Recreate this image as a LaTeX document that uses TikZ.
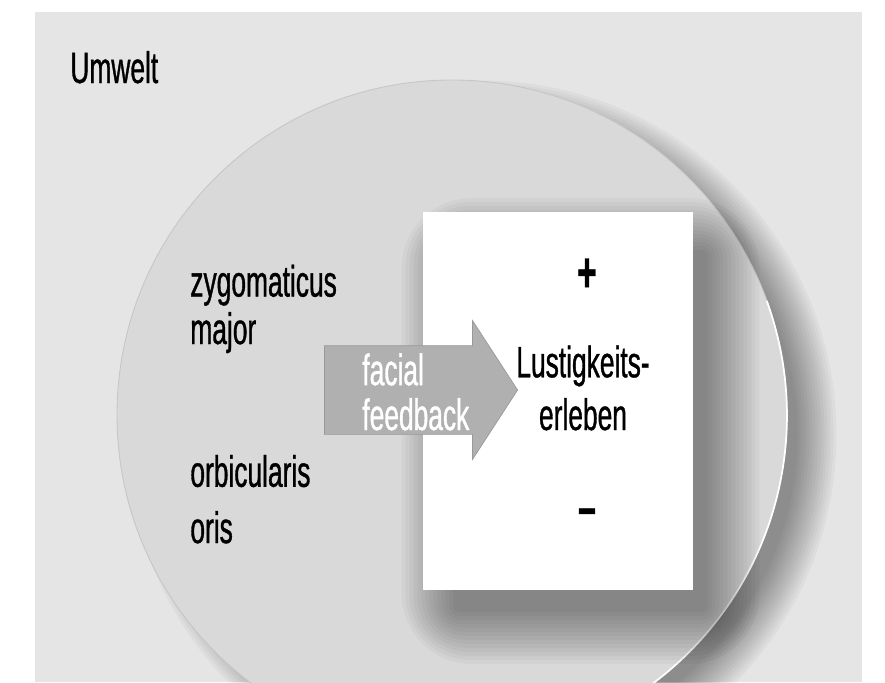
\documentclass[tikz,border=0pt]{standalone}
\usepackage{fontspec}
\setmainfont{Liberation Sans}[FakeStretch=0.6, FakeBold=0.8]
\usetikzlibrary{shapes.arrows,calc}

\begin{document}
\begin{tikzpicture}[every node/.style={font=\fontsize{25}{30}\selectfont, inner sep=0pt},
    txt/.style={align=left, anchor=base west},
    box/.style={fill=white, minimum width=5.4cm, minimum height=7.56cm},
    disc/.style={circle, fill=gray!30, draw=gray!45, line width=0.5pt, minimum size=13.4cm},
    fbarrow/.style={single arrow, fill=gray!62, draw=gray!80, inner ysep=0.88cm, minimum height=3.86cm,
      single arrow head extend=0.5cm, single arrow tip angle=114}]
  \useasboundingbox (0,0) rectangle (17.7,13.64);
  \fill[gray!20] (0.7,0) rectangle (17.24,13.4);
  \foreach \k in {1,...,14}
    \fill[black, opacity=0.03] (9.64,4.94) circle (6.25+0.06*\k);
  \node[disc] (circ) at (9.04,5.34) {};
  \draw[white, line width=1pt] (circ.-100) arc[start angle=-100, end angle=20, radius=6.7cm];
  \node[box] (box) at (11.16,5.62) {};
  \foreach \k in {1,...,14}
    \fill[black, opacity=0.03, rounded corners=\k mm]
      ($(box.south west)+(0.45+0.25-0.08*\k,-0.6+0.25-0.08*\k)$) rectangle
      ($(box.north east)+(0.45-0.25+0.08*\k,-0.6-0.25+0.08*\k)$);
  \node[box] at (box) {};
  \node[fbarrow, anchor=tip] (fb) at (10.36,5.84) {};
  \node[txt] (umw) at (1.4,11.98) {Umwelt};
  \node[txt, font=\fontsize{25}{27}\selectfont] (zyg) at (3.8,6.76) {zygomaticus\\major};
  \node[txt, font=\fontsize{25}{32}\selectfont] (orb) at (3.8,2.78) {orbicularis\\oris};
  \node[txt, text=white, font=\fontsize{25}{25.5}\selectfont] (fbt) at (7.24,5.04) {facial\\feedback};
  \node[font=\fontsize{32}{32}\selectfont\bfseries] (plus) at (11.74,8.14) {+};
  \node[align=center, anchor=base] (lust) at (11.66,5.04) {Lustigkeits-\\erleben};
  \node[font=\fontsize{30}{30}\selectfont\bfseries] (minus) at (11.74,3.3) {--};
\end{tikzpicture}
\end{document}
